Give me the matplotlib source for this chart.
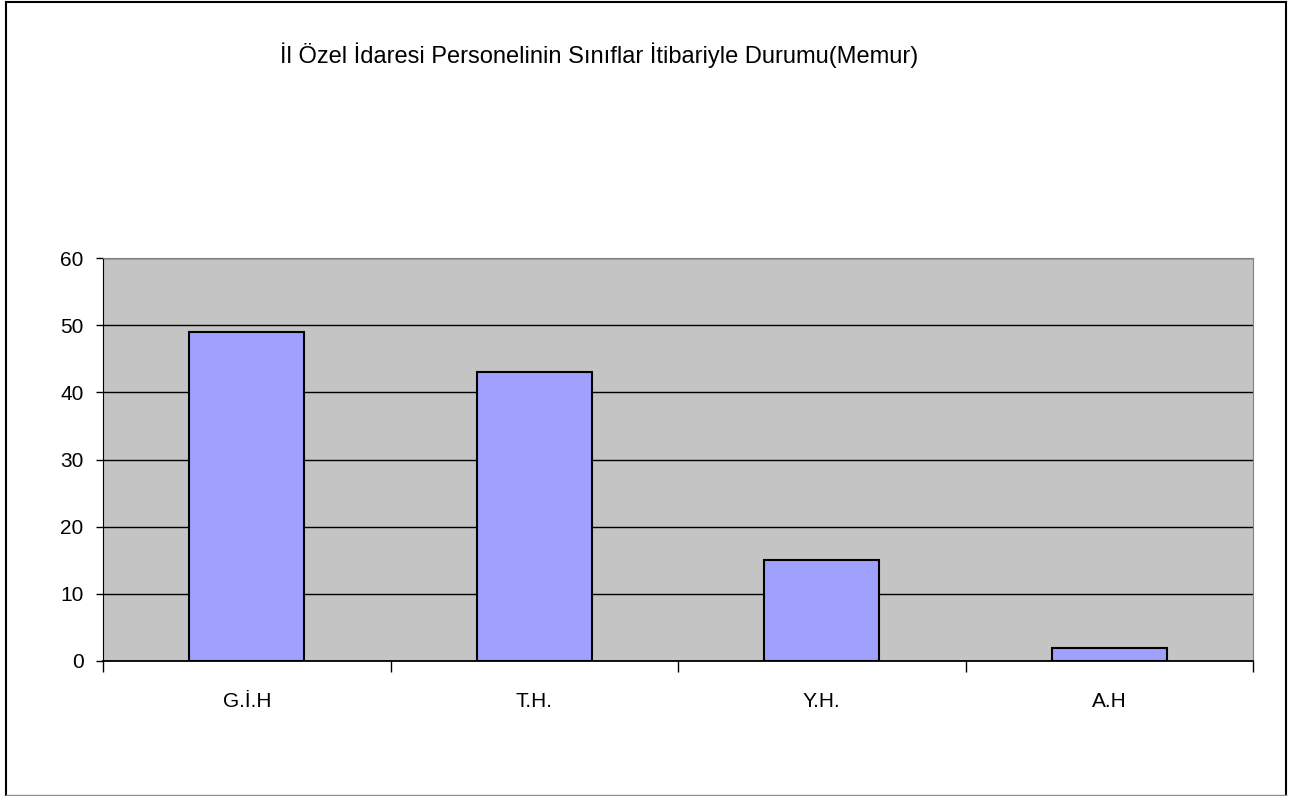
import numpy as np
import matplotlib
matplotlib.use("Agg")
import matplotlib.pyplot as plt
from matplotlib.patches import Rectangle
from matplotlib.lines import Line2D

# Sınıflar ve personel sayıları
siniflar = ["G.İ.H", "T.H.", "Y.H.", "A.H"]
sayilar = [49, 43, 15, 2]
y_ticks = [0, 10, 20, 30, 40, 50, 60]

plt.rcParams['font.family'] = ['Liberation Sans Narrow', 'Liberation Sans', 'DejaVu Sans']

W, H = 1307, 796
fig = plt.figure(figsize=(W / 100, H / 100), dpi=100)

# dış çerçeve
fig.add_artist(Line2D([6 / W, 6 / W], [0, 1 - 2 / H], color='black', lw=1.5))
fig.add_artist(Line2D([6 / W, 1286 / W], [1 - 2 / H, 1 - 2 / H], color='black', lw=1.5))
fig.add_artist(Line2D([1286 / W, 1286 / W], [0, 1 - 2 / H], color='black', lw=1.5))
fig.add_artist(Line2D([6 / W, 1286 / W], [1 / H, 1 / H], color='#909090', lw=1))

ax = fig.add_axes([103 / W, 1 - 661 / H, (1253 - 103) / W, (661 - 258) / H])
ax.set_facecolor('#C4C4C4')

x = np.arange(len(siniflar))
ax.bar(x, sayilar, width=0.4, color='#A0A0FF', edgecolor='black', linewidth=1.5, zorder=3)

ax.set_xlim(-0.5, len(siniflar) - 0.5)
ax.set_ylim(0, 60)
ax.set_yticks(y_ticks)
ax.yaxis.grid(True, color='black', linewidth=1, zorder=1)
ax.set_axisbelow(True)

# kategori sınırlarında tik, ortada etiket
ax.set_xticks(np.arange(-0.5, len(siniflar), 1.0))
ax.set_xticklabels([])
ax.set_xticks(x, minor=True)
ax.set_xticklabels(siniflar, minor=True, fontsize=15)
ax.tick_params(axis='x', which='major', length=8, width=1, color='black', direction='out')
ax.tick_params(axis='x', which='minor', length=0, pad=22)
ax.tick_params(axis='y', length=5, width=1, direction='out', pad=9, labelsize=15)

ax.spines['left'].set_color('black')
ax.spines['bottom'].set_color('black')
ax.spines['bottom'].set_linewidth(1.3)
ax.spines['top'].set_color('#808080')
ax.spines['right'].set_color('#808080')

fig.text(599 / W, 1 - 55 / H, "İl Özel İdaresi Personelinin Sınıflar İtibariyle Durumu(Memur)",
         ha='center', va='center', fontsize=17)

fig.savefig("out.png", dpi=100)
